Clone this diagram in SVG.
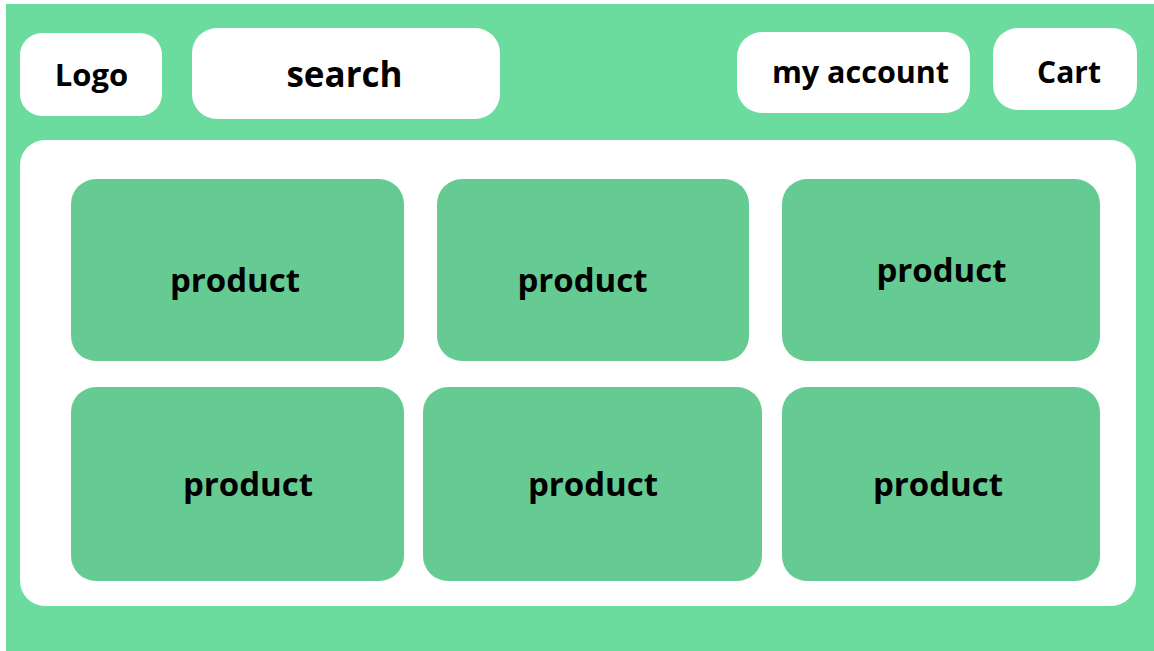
<svg xmlns="http://www.w3.org/2000/svg" width="1154" height="651" viewBox="0 0 1154 651">
  <style>
    .bar { fill: #ffffff; }
    .prod { fill: #66CB92; }
    .lbl { font-family: "Open Sans", "Liberation Sans", sans-serif; font-weight: 700; fill: #000000; text-anchor: middle; }
  </style>
  <rect x="0" y="0" width="1154" height="651" fill="#ffffff"/>
  <rect id="background" x="6" y="4" width="1148" height="647" fill="#6CDB9E"/>
  <g id="logo">
    <rect class="bar" x="20" y="33" width="142" height="83" rx="22"/>
    <text class="lbl" x="91.5" y="86" font-size="31">Logo</text>
  </g>
  <g id="search">
    <rect class="bar" x="192" y="28" width="308" height="91" rx="25"/>
    <text class="lbl" x="344.5" y="87" font-size="35">search</text>
  </g>
  <g id="account">
    <rect class="bar" x="737" y="32" width="233" height="81" rx="25"/>
    <text class="lbl" x="860.5" y="83" font-size="30.5">my account</text>
  </g>
  <g id="cart">
    <rect class="bar" x="993" y="28" width="144" height="82" rx="25"/>
    <text class="lbl" x="1069" y="83" font-size="30">Cart</text>
  </g>
  <g id="panel">
    <rect class="bar" x="20" y="140" width="1116" height="466" rx="25"/>
  </g>
  <g id="product1">
    <rect class="prod" x="71" y="179" width="333" height="182" rx="25"/>
    <text class="lbl" x="235" y="292" font-size="33">product</text>
  </g>
  <g id="product2">
    <rect class="prod" x="437" y="179" width="312" height="182" rx="25"/>
    <text class="lbl" x="582.5" y="292" font-size="33">product</text>
  </g>
  <g id="product3">
    <rect class="prod" x="782" y="179" width="318" height="182" rx="25"/>
    <text class="lbl" x="941.5" y="282" font-size="33">product</text>
  </g>
  <g id="product4">
    <rect class="prod" x="71" y="387" width="333" height="194" rx="25"/>
    <text class="lbl" x="248" y="496" font-size="33">product</text>
  </g>
  <g id="product5">
    <rect class="prod" x="423" y="387" width="339" height="194" rx="25"/>
    <text class="lbl" x="593" y="496" font-size="33">product</text>
  </g>
  <g id="product6">
    <rect class="prod" x="782" y="387" width="318" height="194" rx="25"/>
    <text class="lbl" x="938" y="496" font-size="33">product</text>
  </g>
  <g id="connectors"/>
</svg>
